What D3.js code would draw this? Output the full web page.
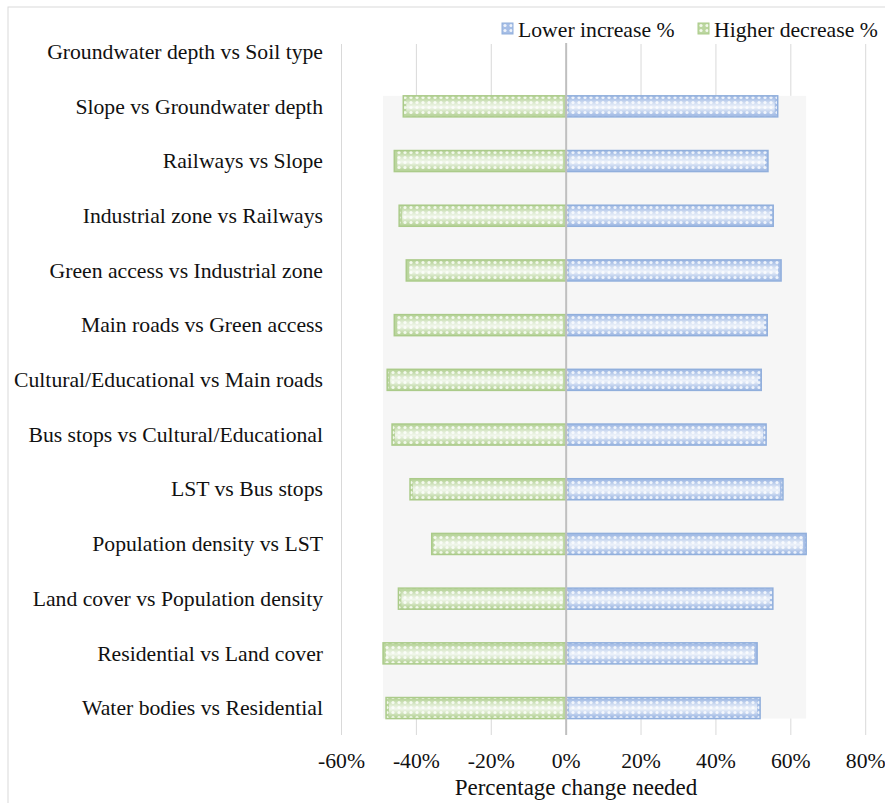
<!DOCTYPE html>
<html>
<head>
<meta charset="utf-8">
<script src="https://cdn.jsdelivr.net/npm/d3@7"></script>
<style>
  body { margin: 0; background: #fff; }
</style>
</head>
<body>
<svg id="viz" width="885" height="803"></svg>
<script>
const width = 885;
const height = 803;
const svg = d3.select("#viz");
const FONT = "'Liberation Serif'";
const FS = 21.7;

// categories (top to bottom)
const categories = [
    "Groundwater depth vs Soil type",
    "Slope vs Groundwater depth",
    "Railways vs Slope",
    "Industrial zone vs Railways",
    "Green access vs Industrial zone",
    "Main roads vs Green access",
    "Cultural/Educational vs Main roads",
    "Bus stops vs Cultural/Educational",
    "LST vs Bus stops",
    "Population density vs LST",
    "Land cover vs Population density",
    "Residential vs Land cover",
    "Water bodies vs Residential"
];
// Lower increase % (blue, right side)
const lowerIncrease = [null, 56.5, 53.9, 55.3, 57.4, 53.7, 52.1, 53.4, 57.9, 64.1, 55.2, 51.0, 51.8];
// Higher decrease % (green, left side)
const higherDecrease = [null, -43.5, -45.9, -44.6, -42.7, -45.9, -47.8, -46.5, -41.7, -35.9, -44.8, -48.9, -48.1];
const ticks = [-60, -40, -20, 0, 20, 40, 60, 80];

const x = d3.scaleLinear().domain([-60, 80]).range([341.5, 865.7]);
const y = d3.scaleBand().domain(categories).range([24.7, 735]).paddingInner(0.615).paddingOuter(0.3);

// 外枠
svg.append("rect")
    .attr("x", 8).attr("y", 7).attr("width", 1000).attr("height", 1000)
    .attr("fill", "none").attr("stroke", "#d9d9d9").attr("stroke-width", 1);

// パターン
const defs = svg.append("defs");
function makePattern(id, base, dot) {
    const p = defs.append("pattern")
        .attr("id", id).attr("patternUnits", "userSpaceOnUse")
        .attr("width", 6).attr("height", 5);
    p.append("rect").attr("width", 6).attr("height", 5).attr("fill", base);
    p.append("circle").attr("cx", 3).attr("cy", 2.5).attr("r", 1.6).attr("fill", dot);
}
makePattern("patBlue", "#a6bee6", "#eef3fb");
makePattern("patGreen", "#bbd69f", "#f3f9ec");
const g = defs.append("linearGradient").attr("id", "shine").attr("x1", 0).attr("y1", 0).attr("x2", 0).attr("y2", 1);
g.append("stop").attr("offset", "0%").attr("stop-color", "#fff").attr("stop-opacity", 0);
g.append("stop").attr("offset", "30%").attr("stop-color", "#fff").attr("stop-opacity", 0.5);
g.append("stop").attr("offset", "55%").attr("stop-color", "#fff").attr("stop-opacity", 0.8);
g.append("stop").attr("offset", "100%").attr("stop-color", "#fff").attr("stop-opacity", 0);

// グリッド線
svg.selectAll(".grid")
    .data(ticks.filter(t => t !== 0))
    .enter().append("line")
    .attr("x1", d => x(d)).attr("x2", d => x(d))
    .attr("y1", 44).attr("y2", 735)
    .attr("stroke", "#d9d9d9").attr("stroke-width", 1);

// 背景の帯
const rows = categories.map((c, i) => ({ c, up: lowerIncrease[i], down: higherDecrease[i] }))
    .filter(d => d.up !== null);
const vmin = d3.min(rows, d => d.down);
const vmax = d3.max(rows, d => d.up);
svg.append("rect")
    .attr("x", x(vmin)).attr("width", x(vmax) - x(vmin))
    .attr("y", y(rows[0].c)).attr("height", y(rows[rows.length - 1].c) + y.bandwidth() - y(rows[0].c))
    .attr("fill", "#f6f6f6");

// バー
function drawBars(key, pat, stroke) {
    const sel = svg.append("g");
    sel.selectAll("rect.bar")
        .data(rows).enter().append("rect")
        .attr("class", "bar")
        .attr("x", d => x(Math.min(0, d[key])))
        .attr("width", d => Math.abs(x(d[key]) - x(0)))
        .attr("y", d => y(d.c)).attr("height", y.bandwidth())
        .attr("fill", `url(#${pat})`)
        .attr("stroke", stroke).attr("stroke-width", 1.5);
    sel.selectAll("rect.shine")
        .data(rows).enter().append("rect")
        .attr("class", "shine")
        .attr("x", d => x(Math.min(0, d[key])) + 3)
        .attr("width", d => Math.abs(x(d[key]) - x(0)) - 6)
        .attr("y", d => y(d.c) + 2).attr("height", y.bandwidth() - 4)
        .attr("fill", "url(#shine)");
}
drawBars("down", "patGreen", "#abcb8a");
drawBars("up", "patBlue", "#91afdc");

// 0% の軸
svg.append("line")
    .attr("x1", x(0)).attr("x2", x(0)).attr("y1", 43).attr("y2", 735)
    .attr("stroke", "#bfbfbf").attr("stroke-width", 2);

// カテゴリラベル
svg.selectAll(".cat")
    .data(categories).enter().append("text")
    .attr("x", 323).attr("y", d => y(d) + y.bandwidth() / 2)
    .attr("dy", "0.33em")
    .attr("text-anchor", "end")
    .style("font-family", FONT)
    .attr("font-size", FS)
    .attr("fill", "#111")
    .text(d => d);

// 目盛ラベル
svg.selectAll(".tick")
    .data(ticks).enter().append("text")
    .attr("x", d => x(d)).attr("y", 768)
    .attr("text-anchor", "middle")
    .style("font-family", FONT)
    .attr("font-size", FS)
    .attr("fill", "#111")
    .text(d => d + "%");

svg.append("text")
    .attr("x", 576).attr("y", 795)
    .attr("text-anchor", "middle")
    .style("font-family", FONT)
    .attr("font-size", 23)
    .attr("fill", "#111")
    .text("Percentage change needed");

// 凡例
const legend = [
    { label: "Lower increase %", pat: "patBlue", stroke: "#91afdc", x: 502 },
    { label: "Higher decrease %", pat: "patGreen", stroke: "#abcb8a", x: 698 }
];
const lg = svg.selectAll(".legend").data(legend).enter().append("g")
    .attr("transform", d => `translate(${d.x},23)`);
lg.append("rect").attr("width", 11).attr("height", 11)
    .attr("fill", d => `url(#${d.pat})`).attr("stroke", d => d.stroke);
lg.append("text").attr("x", 16).attr("y", 13.5)
    .style("font-family", FONT)
    .attr("font-size", FS)
    .attr("fill", "#111")
    .text(d => d.label);
</script>
</body>
</html>
